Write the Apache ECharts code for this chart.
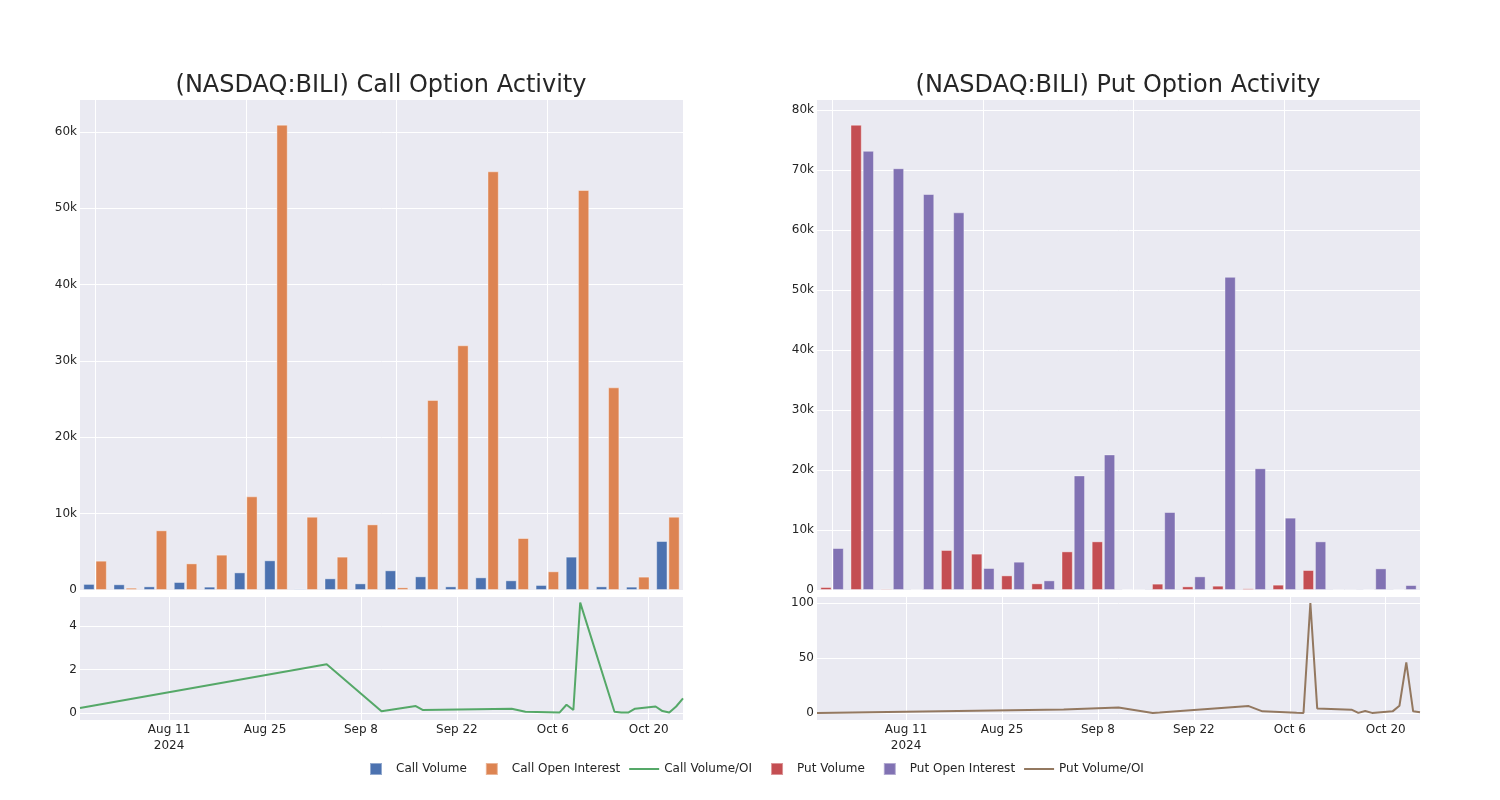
<!DOCTYPE html>
<html>
<head>
<meta charset="utf-8">
<script src="https://cdn.jsdelivr.net/npm/echarts@6/dist/echarts.min.js"></script>
<style>html,body{margin:0;padding:0;background:#fff}#c{width:1500px;height:800px}</style>
</head>
<body>
<div id="c"></div>
<script>
const dates = ['2024-07-29','2024-09-03','2024-09-11','2024-09-16','2024-09-17','2024-09-30','2024-10-02','2024-10-07','2024-10-08','2024-10-09','2024-10-10','2024-10-15','2024-10-16','2024-10-17','2024-10-18','2024-10-21','2024-10-22','2024-10-23','2024-10-24','2024-10-25'];
const categories = dates;
const callVolume = [800, 750, 480, 1050, 440, 2310, 3890, 170, 1530, 870, 2580, 1790, 480, 1660, 1270, 660, 4370, 480, 440, 6420];
const callOI = [3840, 300, 7820, 3490, 4630, 12270, 60960, 9600, 4370, 8600, 350, 24900, 32060, 54850, 6810, 2450, 52400, 26550, 1750, 9600];
const callRatio = [0.23, 2.24, 0.08, 0.32, 0.14, 0.2, 0.06, 0.03, 0.38, 0.14, 5.07, 0.06, 0.02, 0.02, 0.2, 0.3, 0.09, 0.02, 0.3, 0.67];
const putVolume = [500, 77550, 220, 60, 6670, 6060, 2440, 1110, 6440, 8110, 170, 1060, 610, 720, 280, 890, 3330, 40, 100, 100];
const putOI = [7000, 73200, 70300, 66000, 62950, 3670, 4720, 1610, 19100, 22600, 60, 13000, 2280, 52200, 20300, 12060, 8110, 0, 3610, 830];
const putRatio = [0.1, 3.2, 5.0, 0.0, 0.4, 6.3, 1.5, 0.3, 0.1, 100, 4.2, 3.0, 0.1, 1.8, 0.1, 1.5, 6.6, 46, 1.5, 0.6];
const dateTicks = ['2024-08-11','2024-08-25','2024-09-08','2024-09-22','2024-10-06','2024-10-20'];
const titles = ['(NASDAQ:BILI) Call Option Activity', '(NASDAQ:BILI) Put Option Activity'];

const FONT = 'DejaVu Sans';
const BG = '#EAEAF2';
const TXT = '#242424';
const MONTHS = ['Jan','Feb','Mar','Apr','May','Jun','Jul','Aug','Sep','Oct','Nov','Dec'];

function ts(s){ return new Date(s + 'T00:00:00').getTime(); }
const tickTs = dateTicks.map(ts);
function kFmt(v){ return v === 0 ? '0' : (v >= 1000 ? (v/1000) + 'k' : String(v)); }
function dateFmt(v){
  const d = new Date(v);
  let s = MONTHS[d.getMonth()] + ' ' + d.getDate();
  if (Math.abs(v - tickTs[0]) < 3600000) s += '\n' + d.getFullYear();
  return s;
}

const grids = [
  {left: 80, top: 100, width: 603, height: 490},
  {left: 80, top: 597, width: 603, height: 123},
  {left: 817, top: 100, width: 603, height: 490},
  {left: 817, top: 597, width: 603, height: 123}
].map(g => Object.assign({show: true, backgroundColor: BG, borderWidth: 0, containLabel: false}, g));

function catAxis(gi){
  return {
    type: 'category', gridIndex: gi, data: categories, boundaryGap: true,
    axisLine: {show: false}, axisTick: {show: false}, axisLabel: {show: false},
    splitLine: {show: true, alignWithLabel: true, interval: (i) => i % 5 === 0, lineStyle: {color: '#fff', width: 1}}
  };
}
function dateAxis(gi){
  return {
    type: 'value', gridIndex: gi, min: ts(dates[0]), max: ts(dates[dates.length-1]),
    axisLine: {show: false},
    axisTick: {show: false, customValues: tickTs},
    axisLabel: {customValues: tickTs, formatter: dateFmt, color: TXT, fontFamily: FONT, fontSize: 12, margin: 2, lineHeight: 16, hideOverlap: false},
    splitLine: {show: true, lineStyle: {color: '#fff', width: 1}}
  };
}
function lab(extra){
  return Object.assign({color: TXT, fontFamily: FONT, fontSize: 12, margin: 3, showMaxLabel: false}, extra || {});
}
function valAxis(gi, opts){
  return Object.assign({
    type: 'value', gridIndex: gi,
    axisLine: {show: false}, axisTick: {show: false},
    axisLabel: lab(),
    splitLine: {show: true, showMaxLine: false, lineStyle: {color: '#fff', width: 1}}
  }, opts);
}

const barBorder = {borderColor: 'rgba(255,255,255,0.4)', borderWidth: 1};
const sqIcon = 'path://M0,0 M30,12 M9,0 L21,0 L21,12 L9,12 Z';
const lnIcon = 'path://M0,0 M30,12 M0,5 L30,5 L30,7 L0,7 Z';

const option = {
  animation: false,
  backgroundColor: '#fff',
  textStyle: {fontFamily: FONT},
  title: [
    {text: titles[0], left: 376, top: 69, textAlign: 'center', textStyle: {fontFamily: FONT, fontSize: 24, fontWeight: 'normal', color: '#262626'}},
    {text: titles[1], left: 1113, top: 69, textAlign: 'center', textStyle: {fontFamily: FONT, fontSize: 24, fontWeight: 'normal', color: '#262626'}}
  ],
  grid: grids,
  xAxis: [catAxis(0), dateAxis(1), catAxis(2), dateAxis(3)],
  yAxis: [
    valAxis(0, {min: 0, max: 64190, interval: 10000, axisLabel: lab({formatter: kFmt})}),
    valAxis(1, {min: -0.32, max: 5.33, splitNumber: 3, axisLabel: lab({showMinLabel: false}), splitLine: {show: true, showMinLine: false, showMaxLine: false, lineStyle: {color: '#fff'}}}),
    valAxis(2, {min: 0, max: 81670, interval: 10000, axisLabel: lab({formatter: kFmt})}),
    valAxis(3, {min: -6.36, max: 105.45, splitNumber: 2, axisLabel: lab({showMinLabel: false}), splitLine: {show: true, showMinLine: false, showMaxLine: false, lineStyle: {color: '#fff'}}})
  ],
  legend: {
    top: 757, left: 355, itemWidth: 30, itemHeight: 12, itemGap: 9,
    textStyle: {fontFamily: FONT, fontSize: 12, color: TXT},
    data: [
      {name: 'Call Volume', icon: sqIcon},
      {name: 'Call Open Interest', icon: sqIcon},
      {name: 'Call Volume/OI', icon: lnIcon, itemStyle: {color: '#55A868'}},
      {name: 'Put Volume', icon: sqIcon},
      {name: 'Put Open Interest', icon: sqIcon},
      {name: 'Put Volume/OI', icon: lnIcon, itemStyle: {color: '#937860'}}
    ]
  },
  series: [
    {name: 'Call Volume', type: 'bar', xAxisIndex: 0, yAxisIndex: 0, data: callVolume, barGap: '8%', barCategoryGap: '22%', itemStyle: Object.assign({color: '#4C72B0'}, barBorder)},
    {name: 'Call Open Interest', type: 'bar', xAxisIndex: 0, yAxisIndex: 0, data: callOI, barGap: '8%', barCategoryGap: '22%', itemStyle: Object.assign({color: '#DD8452'}, barBorder)},
    {name: 'Call Volume/OI', type: 'line', xAxisIndex: 1, yAxisIndex: 1, data: dates.map((d, i) => [ts(d), callRatio[i]]), symbol: 'none', showSymbol: false, lineStyle: {color: '#55A868', width: 2}, itemStyle: {color: '#55A868'}},
    {name: 'Put Volume', type: 'bar', xAxisIndex: 2, yAxisIndex: 2, data: putVolume, barGap: '8%', barCategoryGap: '22%', itemStyle: Object.assign({color: '#C44E52'}, barBorder)},
    {name: 'Put Open Interest', type: 'bar', xAxisIndex: 2, yAxisIndex: 2, data: putOI, barGap: '8%', barCategoryGap: '22%', itemStyle: Object.assign({color: '#8172B3'}, barBorder)},
    {name: 'Put Volume/OI', type: 'line', xAxisIndex: 3, yAxisIndex: 3, data: dates.map((d, i) => [ts(d), putRatio[i]]), symbol: 'none', showSymbol: false, lineStyle: {color: '#937860', width: 2}, itemStyle: {color: '#937860'}}
  ]
};

const chart = echarts.init(document.getElementById('c'), null, {renderer: 'canvas', width: 1500, height: 800});
chart.setOption(option);
</script>
</body>
</html>
